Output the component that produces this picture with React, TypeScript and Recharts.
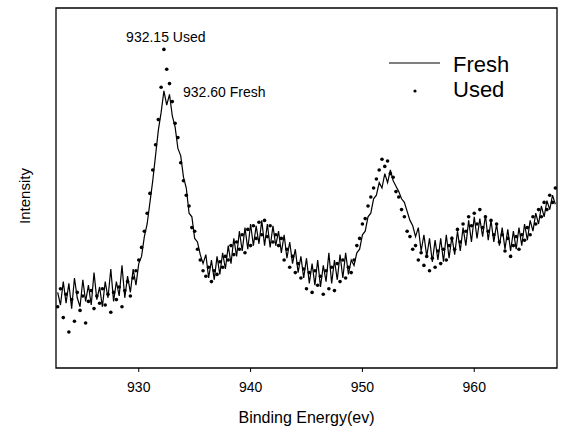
import React from 'react';

import {
  ComposedChart,
  Line,
  Scatter,
  XAxis,
  YAxis,
  ReferenceArea,
  ReferenceDot,
  Label,
  Legend,
} from 'recharts';

// binding energy grid of the scan (eV), 0.25 eV step
const ENERGY_START = 922.75;
const ENERGY_STEP = 0.25;

// fresh sample (one row per eV)
const FRESH = [
  21,
  17.5, 24, 18, 23.5,
  16.5, 25, 19.5, 17,
  24.5, 18.5, 23, 17.5,
  26.5, 19, 22.5, 17,
  24, 19.5, 27.5, 18.5,
  24, 20, 28.5, 19.5,
  25.5, 21, 27.5, 23,
  29, 31, 36.5, 40,
  46, 52, 59, 66,
  71, 77, 73, 76,
  70, 67, 61, 59,
  53, 50, 43, 42,
  36, 35, 31.5, 29,
  31.5, 25, 30, 24.5,
  31, 26, 32, 27.5,
  34, 29, 36, 31,
  38, 32.5, 39, 33,
  40, 34, 39.5, 34.5,
  41, 34, 40, 33.5,
  39.5, 34, 38, 32,
  37, 30.5, 35, 29,
  33, 26.5, 31, 25,
  30.5, 23.5, 29, 23,
  30, 22.5, 28.5, 24,
  32, 23.5, 30, 24.5,
  31.5, 25, 32, 26,
  30, 28.5, 32, 33,
  37, 38, 42, 43,
  47, 48, 51.5, 50,
  54, 51.5, 55, 52,
  50.5, 49, 47, 46,
  43.5, 41, 39.5, 36.5,
  39, 32.5, 37, 31,
  36, 29.5, 35.5, 30,
  36, 29.5, 37, 30.5,
  36.5, 31.5, 38, 32.5,
  39, 34, 41, 35,
  42, 36, 41.5, 36.5,
  42.5, 35.5, 41, 35,
  40, 34, 39, 33,
  38.5, 32.5, 38, 33,
  39, 34, 40, 35.5,
  41, 38, 43, 40,
  45, 42, 46.5, 44,
  48, 45.5,
];

// used sample
const USED = [
  17,
  22, 14, 20.5, 10,
  19, 13, 21, 16,
  20, 12.5, 18.5, 21.5,
  16.5, 20, 18, 22,
  17.5, 20.5, 15.5, 21,
  19, 22.5, 17, 21.5,
  24, 20, 25, 27,
  30, 33.5, 38, 43,
  48.5, 55, 62, 69,
  78, 88.5, 83, 79,
  74, 68, 64, 57,
  52, 48, 45, 39,
  38, 33, 30, 27,
  25.5, 28, 24, 27,
  26, 29.5, 28, 31,
  30, 34, 31.5, 35,
  33, 37, 32, 38.5,
  34, 39.5, 36, 40.5,
  37, 41, 36.5, 39.5,
  35, 37, 34, 36,
  30, 33, 28, 31,
  26.5, 29, 25, 27.5,
  22, 26.5, 21, 27,
  23, 25.5, 20.5, 27,
  22, 28, 21.5, 29,
  24, 30, 25, 28,
  26.5, 30, 34, 36,
  40, 41.5, 45, 47.5,
  50, 52.5, 55, 58,
  56, 57.5, 54, 53,
  49, 47.5, 44, 42,
  38, 36.5, 33, 34,
  30, 32, 28.5, 31,
  27, 30.5, 28, 32.5,
  29, 33, 30, 34,
  36, 33, 38.5, 35,
  40, 38, 42, 39.5,
  43, 40, 44, 39,
  42, 38, 41, 37,
  40, 35, 37, 32.5,
  36, 31, 34, 36.5,
  33, 37, 35.5, 39,
  37, 42, 40, 44,
  42, 46, 44, 48,
  46, 50,
];

const X_TICKS = [930, 940, 950, 960];

const data = FRESH.map((fresh, i) => ({
  energy: ENERGY_START + i * ENERGY_STEP,
  fresh,
  used: USED[i],
}));

const FONT = '"Liberation Sans", Arial, sans-serif';

const note = (text: string, anchor: 'start' | 'middle') => (props: any) => {
  const { x, y } = props.viewBox;
  return (
    <text x={x} y={y} textAnchor={anchor} fontSize={14} fill="#000" fontFamily={FONT}>
      {text}
    </text>
  );
};

const YTitle = (props: any) => {
  const { x, y, height } = props.viewBox;
  const cx = x + 16;
  const cy = y + height / 2 + 8;
  return (
    <text
      x={cx}
      y={cy}
      transform={`rotate(-90 ${cx} ${cy})`}
      textAnchor="middle"
      dominantBaseline="central"
      fontSize={15}
      fill="#000"
      fontFamily={FONT}
    >
      Intensity
    </text>
  );
};

const renderLegend = () => (
  <svg width={150} height={56} style={{ display: 'block' }}>
    <line x1={4} y1={13} x2={55} y2={13} stroke="#000" strokeWidth={1.2} />
    <text x={68} y={22} fontSize={22} fill="#000" fontFamily={FONT}>Fresh</text>
    <circle cx={30} cy={41} r={1.6} fill="#000" />
    <text x={68} y={47} fontSize={22} fill="#000" fontFamily={FONT}>Used</text>
  </svg>
);

const dotShape = (props: any) => <circle cx={props.cx} cy={props.cy} r={1.8} fill="#000" />;

export default function App() {
  return (
    <div style={{ position: 'absolute', left: 0, top: 0, background: '#fff' }}>
      <ComposedChart
        width={564}
        height={426}
        data={data}
        margin={{ top: 8, right: 7, bottom: 0, left: 8 }}
        style={{ fontFamily: FONT }}
      >
        <XAxis
          dataKey="energy"
          type="number"
          domain={[922.6, 967.4]}
          ticks={X_TICKS}
          allowDataOverflow
          height={58}
          axisLine={false}
          tickLine={{ stroke: '#000' }}
          tickSize={4}
          tickMargin={10}
          tick={{ fontSize: 14, fill: '#000' }}
          label={{ value: 'Binding Energy(ev)', position: 'insideBottom', offset: 3, fontSize: 16, fill: '#000' }}
        />
        <YAxis
          type="number"
          domain={[0, 100]}
          width={48}
          tick={false}
          tickLine={false}
          axisLine={false}
        >
          <Label content={YTitle} />
        </YAxis>
        <ReferenceArea x1={922.6} x2={967.4} y1={0} y2={100} fill="none" stroke="#000" strokeWidth={1.3} />
        <Line
          dataKey="fresh"
          type="linear"
          stroke="#000"
          strokeWidth={1.2}
          dot={false}
          isAnimationActive={false}
        />
        <Scatter dataKey="used" fill="#000" shape={dotShape} isAnimationActive={false} />
        <ReferenceDot x={932.42} y={90.6} r={0} fill="none" stroke="none">
          <Label content={note('932.15 Used', 'middle')} />
        </ReferenceDot>
        <ReferenceDot x={933.96} y={75.3} r={0} fill="none" stroke="none">
          <Label content={note('932.60 Fresh', 'start')} />
        </ReferenceDot>
        <Legend
          content={renderLegend}
          layout="horizontal"
          verticalAlign="middle"
          align="center"
          wrapperStyle={{ left: 385, top: 50, width: 150, height: 56 }}
        />
      </ComposedChart>
    </div>
  );
}
